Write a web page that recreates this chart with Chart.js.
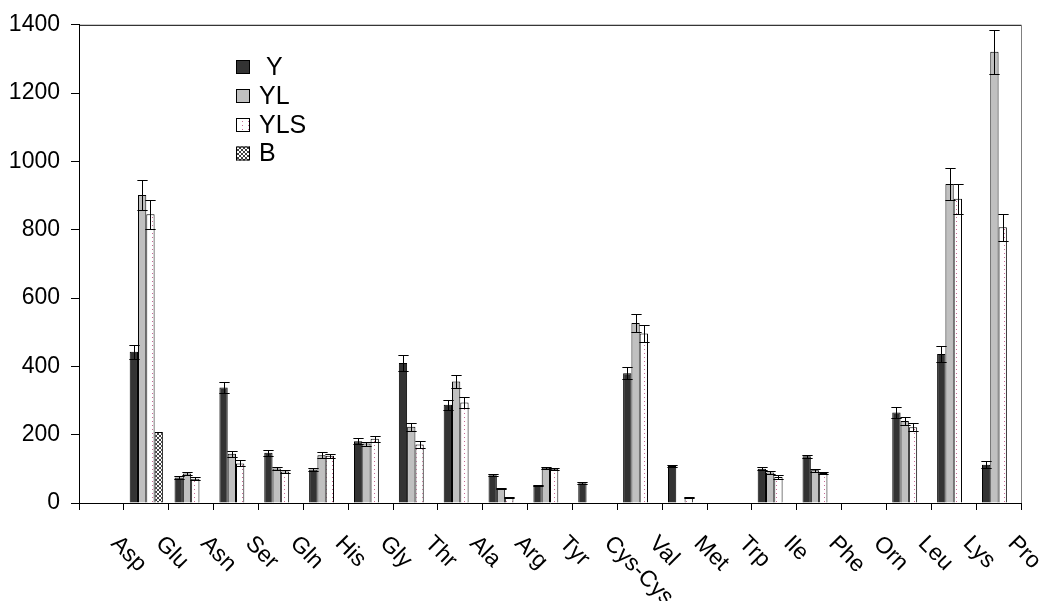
<!DOCTYPE html>
<html>
<head>
<meta charset="utf-8">
<script src="https://cdn.jsdelivr.net/npm/chart.js@4/dist/chart.umd.min.js"></script>
<style>
  html, body { margin: 0; padding: 0; background: #fff; }
  #box { width: 1045px; height: 601px; }
</style>
</head>
<body>
<div id="box"><canvas id="grafico"></canvas></div>
<script>
const aminoacidos = ["Asp", "Glu", "Asn", "Ser", "Gln", "His", "Gly", "Thr", "Ala", "Arg", "Tyr",
    "Cys-Cys", "Val", "Met", "Trp", "Ile", "Phe", "Orn", "Leu", "Lys", "Pro"];
const nomes = [" Y", "YL", "YLS", "B"];

let valoresY = [0, 443, 75, 338, 147, 98, 181, 410, 288, 81, 52, 58, 380, 108, 0, 100, 137, 0, 265, 436, 112];
let valoresYL = [0, 902, 86, 144, 101, 140, 174, 223, 356, 43, 103, 0, 527, 0, 0, 89, 96, 0, 240, 934, 1321];
let valoresYLS = [0, 845, 71, 116, 92, 138, 188, 171, 294, 16, 100, 0, 496, 17, 0, 76, 88, 0, 222, 891, 807];
let valoresB = [0, 208, 0, 0, 0, 0, 0, 0, 0, 0, 0, 0, 0, 0, 0, 0, 0, 0, 0, 0, 0];

let erroY = [0, 21, 5, 17, 9, 5, 8, 23, 15, 3, 2, 3, 18, 3, 0, 4, 4, 0, 15, 23, 10];
let erroYL = [0, 45, 5, 8, 5, 8, 6, 11, 20, 2, 3, 0, 27, 0, 0, 4, 4, 0, 12, 48, 65];
let erroYLS = [0, 42, 4, 9, 4, 5, 8, 10, 16, 2, 3, 0, 26, 2, 0, 5, 4, 0, 12, 44, 40];
let erroB = [0, 0, 0, 0, 0, 0, 0, 0, 0, 0, 0, 0, 0, 0, 0, 0, 0, 0, 0, 0, 0];

const ticksY = [0, 200, 400, 600, 800, 1000, 1200, 1400];

const fonte = "'Liberation Sans', Arial, sans-serif";

// texturas das barras YLS (pontinhos) e B (xadrez)
function textura(w, h, pintar) {
    const c = document.createElement("canvas");
    c.width = w;
    c.height = h;
    const g = c.getContext("2d");
    g.fillStyle = "#ffffff";
    g.fillRect(0, 0, w, h);
    pintar(g);
    return g.createPattern(c, "repeat");
}

const pontos = textura(6, 4, g => {
    g.fillStyle = "#c86a96";
    g.fillRect(2, 1, 1, 1);
});

const xadrez = textura(4, 4, g => {
    g.fillStyle = "#404040";
    for (let i = 0; i < 4; i++) {
        g.fillRect(i, i, 1, 1);
        g.fillRect(3 - i, i, 1, 1);
    }
});

const cores = ["#333333", "#c0c0c0", pontos, xadrez];
const erros = [erroY, erroYL, erroYLS, erroB];

const barrasDeErro = {
    id: "barrasDeErro",
    afterDatasetsDraw(chart) {
        const c = chart.ctx;
        const y = chart.scales.y;
        c.save();
        c.strokeStyle = "#000";
        c.lineWidth = 1;
        chart.data.datasets.forEach((ds, d) => {
            const meta = chart.getDatasetMeta(d);
            meta.data.forEach((bar, i) => {
                const e = erros[d][i];
                if (!e) return;
                const v = ds.data[i];
                const top = Math.round(y.getPixelForValue(v + e)) + 0.5;
                const bot = Math.round(y.getPixelForValue(v - e)) + 0.5;
                const x = Math.round(bar.x) + 0.5;
                const meio = bar.width / 2 + 1;
                c.beginPath();
                c.moveTo(x, top);
                c.lineTo(x, bot);
                c.moveTo(x - meio, top);
                c.lineTo(x + meio, top);
                c.moveTo(x - meio, bot);
                c.lineTo(x + meio, bot);
                c.stroke();
            });
        });
        c.restore();
    },
};

const moldura = {
    id: "moldura",
    afterDraw(chart) {
        const c = chart.ctx;
        const a = chart.chartArea;
        const xs = chart.scales.x;
        c.save();
        // borda de cima e da direita
        c.lineWidth = 1;
        c.strokeStyle = "#000";
        c.beginPath();
        c.moveTo(a.left, a.top + 0.5);
        c.lineTo(a.right, a.top + 0.5);
        c.stroke();
        c.strokeStyle = "#808080";
        c.beginPath();
        c.moveTo(a.right + 0.5, a.top);
        c.lineTo(a.right + 0.5, a.bottom);
        c.stroke();

        // rótulos do eixo x inclinados para baixo
        c.fillStyle = "#000";
        c.font = "23px " + fonte;
        c.textAlign = "left";
        c.textBaseline = "middle";
        aminoacidos.forEach((nome, i) => {
            const x = xs.getPixelForValue(i);
            c.save();
            c.translate(x + 13, a.bottom + 37);
            c.rotate(Math.PI / 4);
            c.fillText(nome, 0, 0);
            c.restore();
        });

        // legenda
        const lx = 236;
        const ly = [67, 96, 125, 153.5];
        chart.data.datasets.forEach((ds, d) => {
            c.fillStyle = ds.backgroundColor;
            c.fillRect(lx, ly[d] - 7, 14, 14);
            c.strokeStyle = "#000";
            c.strokeRect(lx + 0.5, ly[d] - 6.5, 13, 13);
            c.fillStyle = "#000";
            c.font = "25px " + fonte;
            c.fillText(ds.label, 259, ly[d] + 1);
        });
        c.restore();
    },
};

const ctx = document.getElementById("grafico");

new Chart(ctx, {
    type: "bar",
    data: {
        labels: aminoacidos,
        datasets: [valoresY, valoresYL, valoresYLS, valoresB].map((dados, d) => ({
            label: nomes[d],
            data: dados,
            backgroundColor: cores[d],
            borderColor: "#000",
            borderWidth: 1,
            borderSkipped: "start",
            categoryPercentage: 0.74,
            barPercentage: 1.0,
        })),
    },
    options: {
        responsive: true,
        maintainAspectRatio: false,
        animation: false,
        layout: {
            padding: { left: 0, right: 24, top: 24, bottom: 0 },
        },
        plugins: {
            legend: { display: false },
            tooltip: { enabled: false },
        },
        scales: {
            x: {
                grid: {
                    display: true,
                    drawOnChartArea: false,
                    drawTicks: true,
                    tickLength: 7,
                    color: "#000",
                    offset: true,
                },
                border: { display: true, color: "#000", width: 1 },
                ticks: { display: false },
                afterFit(scale) {
                    scale.height = 98;
                },
            },
            y: {
                min: 0,
                max: 1400,
                grid: {
                    drawOnChartArea: false,
                    drawTicks: true,
                    tickLength: 8,
                    color: "#000",
                },
                border: { display: true, color: "#000", width: 1 },
                ticks: {
                    color: "#000",
                    padding: 11,
                    font: { family: fonte, size: 23 },
                    callback: v => String(v),
                },
                afterBuildTicks(scale) {
                    scale.ticks = ticksY.map(v => ({ value: v }));
                },
                afterFit(scale) {
                    scale.width = 79;
                },
            },
        },
    },
    plugins: [barrasDeErro, moldura],
});
</script>
</body>
</html>
